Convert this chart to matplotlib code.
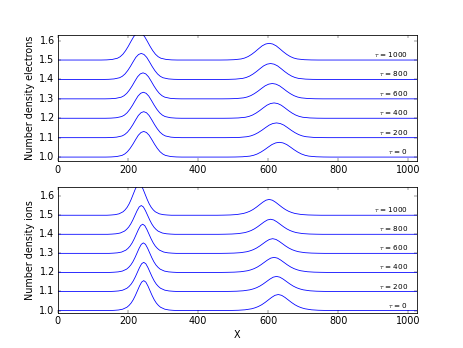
import numpy as np
import matplotlib
matplotlib.use('Agg')
import matplotlib.pyplot as plt

plt.style.use('classic')

# time labels and baseline offsets of the stacked curves
taus = [0, 200, 400, 600, 800, 1000]
offsets = [1.0, 1.1, 1.2, 1.3, 1.4, 1.5]

# electrons: peak positions / heights / half widths
e_x1 = [245, 245, 244, 243, 238, 232]
e_h1 = [0.132, 0.134, 0.134, 0.134, 0.134, 0.142]
e_w1 = [31, 31, 31, 31, 31, 31]
e_x2 = [632, 624, 617, 612, 607, 603]
e_h2 = [0.076, 0.076, 0.079, 0.079, 0.082, 0.086]
e_w2 = [42, 42, 41, 41, 40, 40]

# ions
i_x1 = [245, 245, 244, 242, 238, 232]
i_h1 = [0.157, 0.153, 0.155, 0.153, 0.151, 0.165]
i_w1 = [24, 24, 24, 24, 24, 23]
i_x2 = [629, 624, 617, 613, 607, 603]
i_h2 = [0.084, 0.079, 0.079, 0.077, 0.079, 0.083]
i_w2 = [38, 38, 38, 37, 37, 37]

# hump profiles (fraction of peak height vs distance in half widths)
prof_u = [0, 0.25, 0.5, 0.75, 1.0, 1.25, 1.5, 1.75, 2.0, 2.5, 3.0, 3.5, 4.0]
e_prof = [1.0, 0.96, 0.85, 0.68, 0.5, 0.34, 0.21, 0.12, 0.065, 0.02, 0.005, 0.0, 0.0]
i_prof = [1.0, 0.95, 0.82, 0.66, 0.5, 0.36, 0.25, 0.17, 0.11, 0.045, 0.018, 0.007, 0.0]

X_MAX = 1024


def build_curve(base, x1, h1, w1, x2, h2, w2, prof):
    u = np.array(prof_u)
    p = np.array(prof)
    us = np.concatenate([-u[::-1], u[1:]])
    ps = np.concatenate([p[::-1], p[1:]])
    xs = np.concatenate([[0], x1 + us * w1, x2 + us * w2, [X_MAX]])
    ys = base + np.concatenate([[0], h1 * ps, h2 * ps, [0]])
    return xs, ys


fig, (ax1, ax2) = plt.subplots(2, 1, figsize=(8, 6.013), facecolor='white')

panels = [
    (ax1, e_x1, e_h1, e_w1, e_x2, e_h2, e_w2, e_prof, 'Number density electrons', (0.978, 1.630)),
    (ax2, i_x1, i_h1, i_w1, i_x2, i_h2, i_w2, i_prof, 'Number density ions', (0.986, 1.650)),
]

for ax, x1, h1, w1, x2, h2, w2, prof, ylabel, ylim in panels:
    for k, tau in enumerate(taus):
        xs, ys = build_curve(offsets[k], x1[k], h1[k], w1[k], x2[k], h2[k], w2[k], prof)
        ax.plot(xs, ys, color='b', linewidth=1.0)
        ax.text(1000, offsets[k] + 0.005, r'$\tau$ = %d' % tau,
                ha='right', va='bottom', fontsize=9)
    ax.set_xlim(0, X_MAX)
    ax.set_ylim(*ylim)
    ax.set_yticks([1.0, 1.1, 1.2, 1.3, 1.4, 1.5, 1.6])
    ax.set_xticks([0, 200, 400, 600, 800, 1000])
    ax.set_ylabel(ylabel)

ax2.set_xlabel('X')

plt.savefig('out.png', dpi=57.875, facecolor='white')
